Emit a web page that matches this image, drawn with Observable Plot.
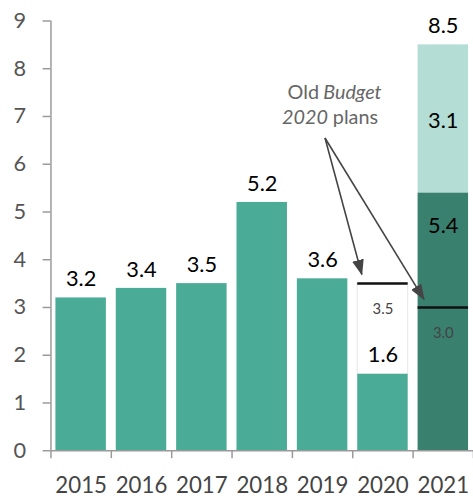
<!DOCTYPE html>
<html>
<head>
<meta charset="utf-8">
<script src="https://cdn.jsdelivr.net/npm/d3@7"></script>
<script src="https://cdn.jsdelivr.net/npm/@observablehq/plot@0.6"></script>
<style>
html, body { margin: 0; padding: 0; overflow: hidden; background: #fff; }
#chart svg { display: block; }
</style>
</head>
<body>
<div id="chart"></div>
<script>
// ---- data ----
const years = [2015, 2016, 2017, 2018, 2019, 2020, 2021];
const actual = [3.2, 3.4, 3.5, 5.2, 3.6, 1.6, null];
const stack2021Base = 5.4;
const stack2021Top = 3.1;
const total2021 = 8.5;
const oldPlanYears = [2020, 2021];
const oldPlanValues = [3.5, 3.0];
const yTicks = [0, 1, 2, 3, 4, 5, 6, 7, 8, 9];
const annotationWords = [
  {text: "Old", italic: false, x: 2018.94, y: 7.5, anchor: "end"},
  {text: "Budget", italic: true, x: 2019.01, y: 7.5, anchor: "start"},
  {text: "2020", italic: true, x: 2019.09, y: 6.98, anchor: "end"},
  {text: "plans", italic: false, x: 2019.17, y: 6.98, anchor: "start"}
];
const arrows = [
  {x1: 2019.04, y1: 6.55, x2: 2019.65, y2: 3.69},
  {x1: 2019.04, y1: 6.55, x2: 2020.68, y2: 3.17}
];

// ---- derived tables ----
const barData = years.map((y, i) => ({year: y, value: actual[i]})).filter(d => d.value != null);
const stackData = [
  {year: 2021, y1: 0, y2: stack2021Base, label: stack2021Base, color: "#3a806f"},
  {year: 2021, y1: stack2021Base, y2: stack2021Base + stack2021Top, label: stack2021Top, color: "#b4ded5"}
];
const planData = oldPlanYears.map((y, i) => ({year: y, value: oldPlanValues[i]}));
const gapBox = [{year: 2020, y1: actual[5], y2: oldPlanValues[0]}];
const boundaries = [years[0] - 0.5, ...years.map(y => y + 0.5)];
const fmt = d3.format(".1f");

const FONT = "Lato, 'Noto Sans', sans-serif";
const half = 0.5;

function wordMark(anchor, italic) {
  return Plot.text(annotationWords.filter(d => d.anchor === anchor && d.italic === italic),
    {x: "x", y: "y", text: "text", textAnchor: anchor, fontSize: 20, fill: "#666",
     fontStyle: italic ? "italic" : "normal"});
}

const plot = Plot.plot({
  width: 478,
  height: 503,
  marginLeft: 51,
  marginRight: 0,
  marginTop: 20.7,
  marginBottom: 48,
  style: {fontFamily: FONT, background: "#fff"},
  x: {type: "linear", domain: [years[0] - 0.5, years[years.length - 1] + 0.5]},
  y: {domain: [0, 9]},
  marks: [
    Plot.rect(gapBox, {x1: d => d.year - half, x2: d => d.year + half, y1: "y1", y2: "y2",
      insetLeft: 5, insetRight: 5, fill: "#fff", stroke: "#e6e6e6", strokeWidth: 1}),
    Plot.rectY(barData, {x1: d => d.year - half, x2: d => d.year + half, y: "value",
      insetLeft: 5, insetRight: 5, fill: "#4aac97"}),
    Plot.rect(stackData, {x1: d => d.year - half, x2: d => d.year + half, y1: "y1", y2: "y2",
      insetLeft: 5, insetRight: 5, fill: "color"}),
    Plot.ruleY(planData, {x1: d => d.year - half, x2: d => d.year + half, y: "value",
      insetLeft: 5, insetRight: 5, stroke: "#111", strokeWidth: 2.5}),
    Plot.ruleX([boundaries[0]], {y1: 0, y2: 9, stroke: "#9a9a9a", strokeWidth: 1.5}),
    Plot.ruleY([0], {stroke: "#9a9a9a", strokeWidth: 1.5}),
    Plot.axisY({ticks: yTicks, tickSize: 8, tickPadding: 17, fontSize: 22,
      stroke: "#9a9a9a", fill: "#555", tickFormat: d => d, strokeWidth: 1.5}),
    Plot.axisX({ticks: boundaries, tickSize: 8, tickFormat: () => "", stroke: "#9a9a9a", strokeWidth: 1.5}),
    Plot.axisX({ticks: years, tickSize: 0, tickPadding: 27, fontSize: 22.5, fill: "#444",
      tickFormat: d => String(d)}),
    Plot.text(barData, {x: "year", y: "value", text: d => fmt(d.value), dy: -19,
      fontSize: 22, fill: "#000"}),
    Plot.text([{year: 2021, value: total2021}], {x: "year", y: "value", text: d => fmt(d.value),
      dy: -19, fontSize: 22, fill: "#000"}),
    Plot.text([stackData[1]], {x: "year", y: d => (d.y1 + d.y2) / 2, text: d => fmt(d.label),
      dy: 2, fontSize: 22, fill: "#000"}),
    Plot.text([stackData[0]], {x: "year", y: "y2", text: d => fmt(d.label),
      dy: 33, fontSize: 22, fill: "#000"}),
    Plot.text(planData, {x: "year", y: "value", text: d => fmt(d.value), dy: 26,
      fontSize: 15, fill: "#444"}),
    wordMark("end", false),
    wordMark("end", true),
    wordMark("start", false),
    wordMark("start", true),
    Plot.link(arrows, {x1: "x1", y1: "y1", x2: "x2", y2: "y2", stroke: "#444", strokeWidth: 1.6})
  ]
});

// filled triangular arrowheads
const svg = d3.select(plot);
const defs = svg.insert("defs", ":first-child");
defs.append("marker")
  .attr("id", "tri-head")
  .attr("viewBox", "0 0 16 12")
  .attr("refX", 15)
  .attr("refY", 6)
  .attr("markerWidth", 16)
  .attr("markerHeight", 12)
  .attr("markerUnits", "userSpaceOnUse")
  .attr("orient", "auto")
  .append("path")
  .attr("d", "M0,0 L16,6 L0,12 Z")
  .attr("fill", "#444");
svg.selectAll('g[aria-label="link"] path').attr("marker-end", "url(#tri-head)");

document.getElementById("chart").appendChild(plot);
</script>
</body>
</html>
